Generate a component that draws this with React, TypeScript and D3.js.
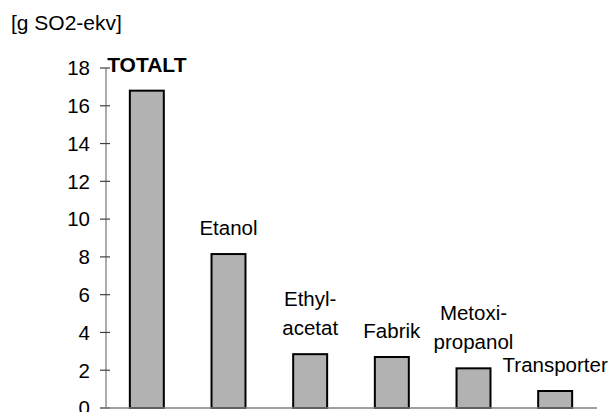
import React from 'react';
import * as d3 from 'd3';

const categories = ['TOTALT', 'Etanol', 'Ethyl-acetat', 'Fabrik', 'Metoxi-propanol', 'Transporter'];
const values = [16.8, 8.15, 2.85, 2.7, 2.1, 0.9];
const labelLines = [['TOTALT'], ['Etanol'], ['Ethyl-', 'acetat'], ['Fabrik'], ['Metoxi-', 'propanol'], ['Transporter']];
const yTicks = [0, 2, 4, 6, 8, 10, 12, 14, 16, 18];
const unitLabel = '[g SO2-ekv]';

const W = 614;
const H = 412;
const font = '"Liberation Sans", Arial, sans-serif';

export default function App() {
  const x = d3.scaleBand()
    .domain(categories)
    .range([106, 596])
    .paddingInner(0.584)
    .paddingOuter(0.292);

  const y = d3.scaleLinear()
    .domain([0, 18])
    .range([408, 68]);

  return (
    <div style={{ position: 'absolute', left: 0, top: 0 }}>
      <svg width={W} height={H} style={{ display: 'block', background: '#fff' }}>
        <text x={11} y={30} fontFamily={font} fontSize={21} fill="#000">{unitLabel}</text>

        {/* y axis */}
        <line x1={106} x2={106} y1={y(18)} y2={y(0)} stroke="#808080" strokeWidth={1.3} />
        {yTicks.map(t => (
          <g key={t}>
            <line x1={100} x2={110} y1={y(t)} y2={y(t)} stroke="#404040" strokeWidth={1.2} />
            <text x={90} y={y(t)} dy="0.36em" textAnchor="end" fontFamily={font} fontSize={20.5} fill="#000">{t}</text>
          </g>
        ))}

        {/* bars */}
        {categories.map((c, i) => (
          <rect key={c}
            x={x(c)}
            y={y(values[i])}
            width={x.bandwidth()}
            height={y(0) - y(values[i])}
            fill="#b2b2b2"
            stroke="#000"
            strokeWidth={2} />
        ))}

        {/* baseline */}
        <line x1={100} x2={597} y1={y(0)} y2={y(0)} stroke="#808080" strokeWidth={1.3} />

        {/* labels above bars */}
        {categories.map((c, i) => {
          const lines = labelLines[i];
          const cx = (x(c) as number) + x.bandwidth() / 2;
          const base = y(values[i]) - 19;
          return (
            <text key={c} x={cx} textAnchor="middle" fontFamily={font}
              fontSize={i === 0 ? 21 : 20.5} fontWeight={i === 0 ? 'bold' : 'normal'} fill="#000">
              {lines.map((l, j) => (
                <tspan key={j} x={cx} y={base - (lines.length - 1 - j) * 29.5}>{l}</tspan>
              ))}
            </text>
          );
        })}
      </svg>
    </div>
  );
}
